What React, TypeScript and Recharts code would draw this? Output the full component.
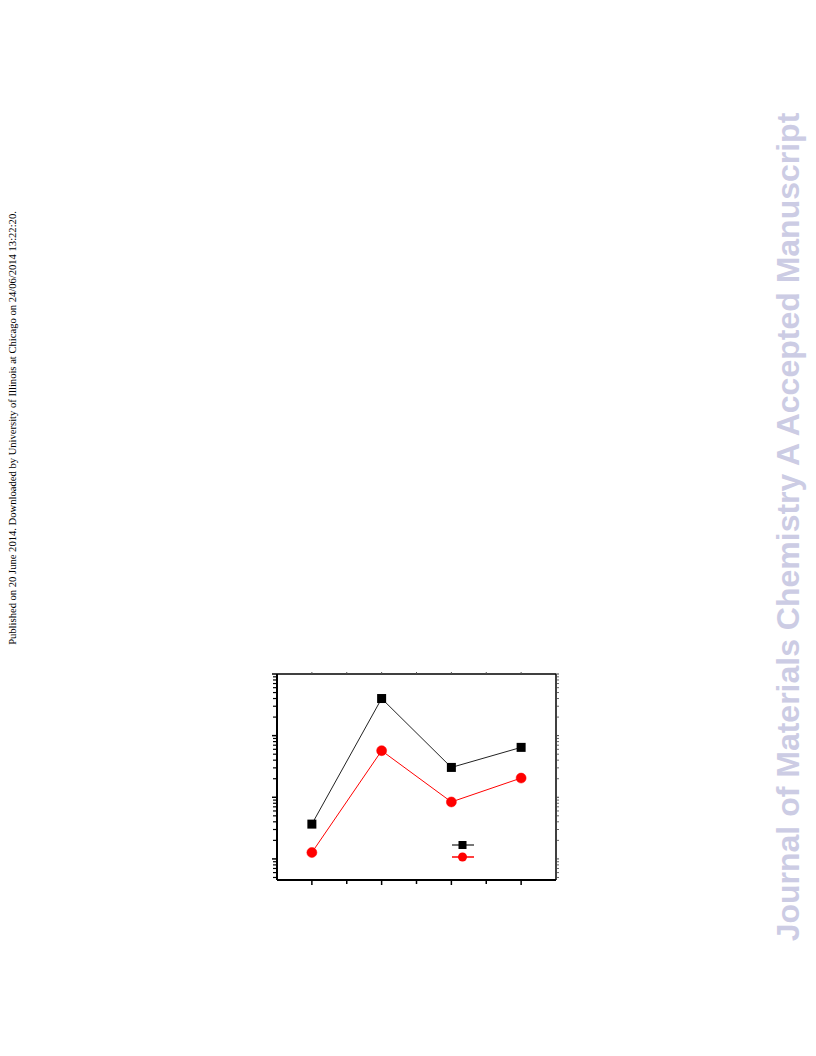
import { LineChart, Line, XAxis, YAxis } from 'recharts';

// x positions of the four samples
const samples = [1, 2, 3, 4];
// black squares and red circles (log scale)
const blackValues = [3.67, 400, 30.5, 64.5];
const redValues = [1.27, 57, 8.4, 20.5];

const xMajorTicks = [1, 2, 3, 4];
const xMinorTicks = [1.5, 2.5, 3.5];
const yMajorTicks = [1, 10, 100, 1000];
const yMinorTicks = [
  0.5, 0.6, 0.7, 0.8, 0.9,
  2, 3, 4, 5, 6, 7, 8, 9,
  20, 30, 40, 50, 60, 70, 80, 90,
  200, 300, 400, 500, 600, 700, 800, 900,
];

const data = samples.map((x, i) => ({ x, black: blackValues[i], red: redValues[i] }));

const SquareDot = (props: any) => {
  const { cx, cy } = props;
  if (cx == null || cy == null) return null;
  return <rect x={cx - 4.5} y={cy - 4.5} width={9} height={9} fill="#000" />;
};

const Legend = () => (
  <svg width={30} height={26} style={{ position: 'absolute', left: 448, top: 838 }}>
    <line x1={4} y1={7} x2={26} y2={7} stroke="#777" strokeWidth={2} />
    <rect x={10.5} y={3} width={8} height={8} fill="#000" />
    <line x1={4} y1={19} x2={26} y2={19} stroke="#ff0000" strokeWidth={1.5} />
    <circle cx={14.5} cy={19} r={4.5} fill="#ff0000" />
  </svg>
);

const noTick = () => null;

export default function App() {
  const yDomain: [number, number] = [0.455, 1000];
  return (
    <div style={{ position: 'absolute', left: 0, top: 0, width: 816, height: 1056, background: '#fff', overflow: 'hidden' }}>
      <LineChart
        width={816}
        height={1056}
        data={data}
        margin={{ left: 275, top: 673, right: 258, bottom: 174 }}
      >
        {/* bottom axis */}
        <XAxis xAxisId="x" dataKey="x" type="number" domain={[0.5, 4.5]} allowDataOverflow
          ticks={xMajorTicks} interval={0} tick={noTick} tickSize={5} height={1}
          axisLine={{ stroke: '#000', strokeWidth: 2 }} tickLine={{ stroke: '#000', strokeWidth: 1.5 }} />
        <XAxis xAxisId="xm" dataKey="x" type="number" domain={[0.5, 4.5]} allowDataOverflow
          ticks={xMinorTicks} interval={0} tick={noTick} tickSize={3} height={1}
          axisLine={false} tickLine={{ stroke: '#000', strokeWidth: 1.5 }} />
        {/* top axis */}
        <XAxis xAxisId="top" orientation="top" dataKey="x" type="number" domain={[0.5, 4.5]} allowDataOverflow
          ticks={[...xMajorTicks, ...xMinorTicks]} interval={0} tick={noTick} tickSize={2} height={1}
          axisLine={{ stroke: '#000', strokeWidth: 1.5 }} tickLine={{ stroke: '#555', strokeWidth: 1 }} />

        {/* left axis */}
        <YAxis yAxisId="y" scale="log" type="number" domain={yDomain} allowDataOverflow
          ticks={yMajorTicks} interval={0} tick={noTick} tickSize={5} width={1}
          axisLine={{ stroke: '#000', strokeWidth: 2 }} tickLine={{ stroke: '#000', strokeWidth: 1.5 }} />
        <YAxis yAxisId="ym" scale="log" type="number" domain={yDomain} allowDataOverflow
          ticks={yMinorTicks} interval={0} tick={noTick} tickSize={3} width={1}
          axisLine={false} tickLine={{ stroke: '#000', strokeWidth: 1.2 }} />
        {/* right axis */}
        <YAxis yAxisId="yr" orientation="right" scale="log" type="number" domain={yDomain} allowDataOverflow
          ticks={yMajorTicks} interval={0} tick={noTick} tickSize={3} width={1}
          axisLine={{ stroke: '#000', strokeWidth: 1.5 }} tickLine={{ stroke: '#444', strokeWidth: 1 }} />
        <YAxis yAxisId="yrm" orientation="right" scale="log" type="number" domain={yDomain} allowDataOverflow
          ticks={yMinorTicks} interval={0} tick={noTick} tickSize={2} width={1}
          axisLine={false} tickLine={{ stroke: '#666', strokeWidth: 1 }} />

        <Line xAxisId="x" yAxisId="y" dataKey="black" stroke="#222" strokeWidth={1}
          dot={<SquareDot />} isAnimationActive={false} />
        <Line xAxisId="x" yAxisId="y" dataKey="red" stroke="#ff0000" strokeWidth={1}
          dot={{ r: 5, fill: '#ff0000', stroke: '#ff0000', strokeWidth: 0.5 }} isAnimationActive={false} />
      </LineChart>

      <Legend />

      <div style={{
        position: 'absolute', left: 12, top: 428, transform: 'translate(-50%, -50%) rotate(-90deg)',
        whiteSpace: 'nowrap', fontFamily: '"Liberation Serif", "Times New Roman", serif', fontSize: 10.6, color: '#000',
      }}>
        Published on 20 June 2014. Downloaded by University of Illinois at Chicago on 24/06/2014 13:22:20.
      </div>
      <div style={{
        position: 'absolute', left: 788, top: 527, transform: 'translate(-50%, -50%) rotate(-90deg)',
        whiteSpace: 'nowrap', fontFamily: '"Liberation Sans", Arial, sans-serif', fontWeight: 'bold', fontSize: 32,
        color: '#ccccE4',
      }}>
        Journal of Materials Chemistry A Accepted Manuscript
      </div>
    </div>
  );
}
